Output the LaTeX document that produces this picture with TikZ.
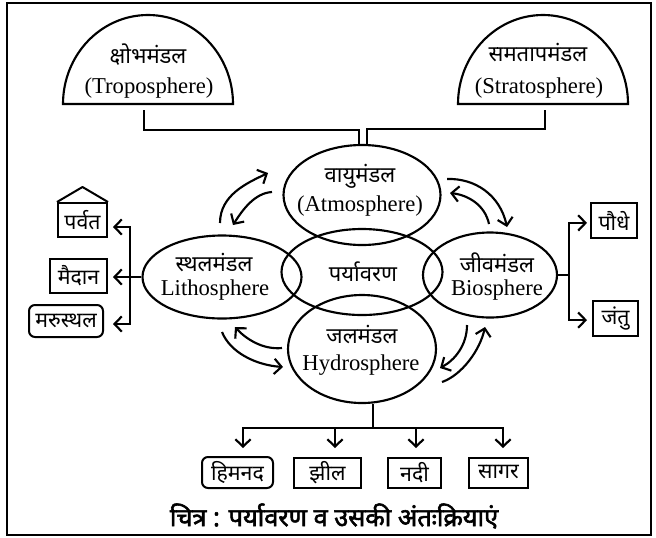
\documentclass[tikz,border=0pt]{standalone}
\usepackage{fontspec}
\setmainfont{Liberation Serif}
\newfontfamily\deva[Script=Devanagari]{Noto Sans}
\newfontfamily\devaheavy[Script=Devanagari,FakeBold=2.2]{Noto Sans}
\usetikzlibrary{arrows.meta,shapes.geometric}
\begin{document}
\begin{tikzpicture}[x=0.75pt,y=-0.75pt,line width=1.6pt,
  arr/.style={-{Straight Barb[length=5.5pt,width=11.5pt]}},
  sphere/.style 2 args={ellipse,draw,inner sep=0pt,
    minimum width=#1*0.75pt,minimum height=#2*0.75pt},
  devtxt/.style={font=\deva\fontsize{16.5}{19}\selectfont,inner sep=0pt},
  entxt/.style={font=\fontsize{17}{20}\selectfont,inner sep=0pt},
  lbl/.style 2 args={draw,rectangle,inner sep=0pt,line width=1.5pt,
    minimum width=#1*0.75pt,minimum height=#2*0.75pt,
    font=\deva\fontsize{16}{19}\selectfont},
  rlbl/.style 2 args={lbl={#1}{#2},rounded corners=4.5pt}]
\useasboundingbox (0,0) rectangle (656,537);
% outer frame
\draw[line width=2pt] (7,3) rectangle (651,535);

% two domes on top
\draw (63,104) arc[start angle=180,end angle=360,x radius=85,y radius=89] -- cycle;
\draw (458,104) arc[start angle=180,end angle=360,x radius=85,y radius=89] -- cycle;
\node[devtxt] (tropohi) at (148,55) {क्षोभमंडल};
\node[entxt]  (tropoen) at (149,88) {(Troposphere)};
\node[devtxt] (stratohi) at (538,53) {समतापमंडल};
\node[entxt]  (stratoen) at (539,88) {(Stratosphere)};
\coordinate (tropofoot) at (144,110);
\coordinate (stratofoot) at (545,110);

% the five spheres
\node[sphere={157}{100}] (atmo)  at (362,195) {};
\node[sphere={161}{86}]  (env)   at (362,272) {};
\node[sphere={159}{83}]  (litho) at (222,277) {};
\node[sphere={134}{85}]  (bio)   at (490,275) {};
\node[sphere={148}{108}] (hydro) at (362,349) {};

\node[devtxt] (atmohi) at (360,176) {वायुमंडल};
\node[entxt]  (atmoen) at (360,206) {(Atmosphere)};
\node[devtxt] (envhi)  at (363,272) {पर्यावरण};
\node[devtxt] (lithohi) at (214,263) {स्थलमंडल};
\node[entxt]  (lithoen) at (215,290) {Lithosphere};
\node[devtxt] (biohi) at (497,263) {जीवमंडल};
\node[entxt]  (bioen) at (497,290) {Biosphere};
\node[devtxt] (hydrohi) at (362,335) {जलमंडल};
\node[entxt]  (hydroen) at (361,365) {Hydrosphere};

% domes joined to the atmosphere
\draw (tropofoot) -- ++(0,20) -| ([xshift=-2.25pt]atmo.north);
\draw (stratofoot) -- ++(0,19) -| ([xshift=3.75pt]atmo.north);

% exchange arrows between neighbouring spheres
\coordinate (a1) at (220,223); \coordinate (a2) at (268,173);
\coordinate (a3) at (272,192); \coordinate (a4) at (233,225);
\draw[arr] (a1) .. controls (220,195) and (247,183) .. (a2);
\draw[arr] (a3) .. controls (255,193) and (243,209) .. (a4);
\coordinate (b1) at (447,179); \coordinate (b2) at (507,227);
\coordinate (b3) at (489,224); \coordinate (b4) at (450,193);
\draw[arr] (b1) .. controls (475,178) and (500,195) .. (b2);
\draw[arr] (b3) .. controls (485,205) and (468,195) .. (b4);
\coordinate (c1) at (222,332); \coordinate (c2) at (283,367);
\coordinate (c3) at (282,348); \coordinate (c4) at (235,327);
\draw[arr] (c1) .. controls (230,352) and (255,365) .. (c2);
\draw[arr] (c3) .. controls (262,350) and (245,338) .. (c4);
\coordinate (d1) at (467,325); \coordinate (d2) at (440,368);
\coordinate (d3) at (442,382); \coordinate (d4) at (485,327);
\draw[arr] (d1) .. controls (467,345) and (455,360) .. (d2);
\draw[arr] (d3) .. controls (462,375) and (480,350) .. (d4);

% land forms
\node[lbl={49}{34}]  (parvat) at (82.5,220) {पर्वत};
\node[lbl={57}{34}]  (maidan) at (78.5,276) {मैदान};
\node[rlbl={74}{32}] (marust) at (66,321) {मरुस्थल};
\coordinate (roof) at (82.5,187);
\draw[line width=1.5pt,line join=round] (parvat.north west) -- (roof) -- (parvat.north east);
\coordinate (lj) at (130,277);
\draw (litho.west) -- (lj);
\draw[arr] (lj) |- ([xshift=3.75pt,yshift=-5.25pt]parvat.east);
\draw[arr] (lj) -- ([xshift=3.75pt]maidan.east |- lj);
\draw[arr] (lj) |- ([xshift=6.75pt,yshift=-2.25pt]marust.east);

% living things
\node[lbl={46}{35}] (paudhe) at (614,220.5) {पौधे};
\node[lbl={45}{35}] (jantu) at (615.5,318.5) {जंतु};
\coordinate (rj) at (569,275);
\draw (bio.east) -- (rj);
\draw[arr] (rj) |- ([xshift=-2.25pt,yshift=-1.8pt]paudhe.west);
\draw[arr] (rj) |- ([xshift=-3.75pt,yshift=-1.2pt]jantu.west);

% water bodies
\node[rlbl={71}{31}] (himnad) at (237.5,472.5) {हिमनद};
\node[lbl={67}{30}]  (jheel)  at (327.5,472.5) {झील};
\node[lbl={53}{30}]  (nadi)   at (414.5,472.5) {नदी};
\node[lbl={59}{30}]  (sagar)  at (498.5,472.5) {सागर};
\coordinate (hj) at (373,428);
\coordinate (t1) at (243,448); \coordinate (t2) at (335,448);
\coordinate (t3) at (416,448); \coordinate (t4) at (503,448);
\draw ([xshift=8.25pt]hydro.south) -- (hj);
\draw[arr] (hj) -| (t1);
\draw[arr] (hj) -| (t4);
\draw[arr] (t2 |- hj) -- (t2);
\draw[arr] (t3 |- hj) -- (t3);

% caption
\node[font=\devaheavy\fontsize{19}{23}\selectfont,inner sep=0pt] (caption) at (334,516)
  {चित्र : पर्यावरण व उसकी अंतःक्रियाएं};
\end{tikzpicture}
\end{document}
